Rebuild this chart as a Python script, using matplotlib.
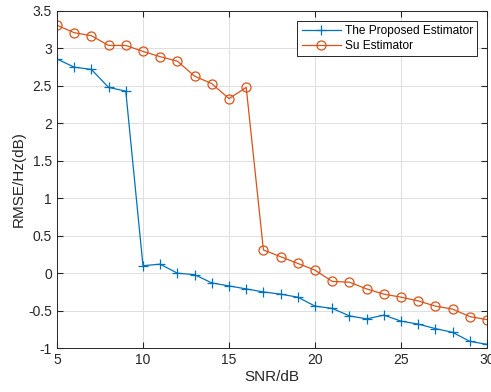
import matplotlib
matplotlib.use('Agg')
import matplotlib.pyplot as plt

snr = list(range(5, 31))
proposed = [2.86, 2.75, 2.72, 2.48, 2.43, 0.10, 0.12, 0.00, -0.02, -0.13,
            -0.17, -0.21, -0.25, -0.28, -0.32, -0.44, -0.47, -0.57, -0.61, -0.56,
            -0.64, -0.68, -0.74, -0.79, -0.91, -0.95]
su = [3.31, 3.21, 3.17, 3.04, 3.04, 2.96, 2.89, 2.83, 2.63, 2.53,
      2.33, 2.48, 0.31, 0.22, 0.13, 0.04, -0.11, -0.12, -0.21, -0.28,
      -0.32, -0.37, -0.44, -0.48, -0.58, -0.62]

plt.rcParams['font.family'] = ['Liberation Sans', 'DejaVu Sans']

fig = plt.figure(figsize=(4.91, 3.92), dpi=100)
ax = fig.add_axes([0.116, 0.112, 0.876, 0.86])

ax.plot(snr, proposed, '-+', color='#0072BD', lw=0.9, ms=7, mew=0.9,
        label='The Proposed Estimator')
ax.plot(snr, su, '-o', color='#D95319', lw=0.9, ms=6.5, mew=0.9,
        mfc='none', label='Su Estimator')

ax.set_xlim(5, 30)
ax.set_ylim(-1, 3.5)
ax.set_xticks(range(5, 31, 5))
ax.set_yticks([-1, -0.5, 0, 0.5, 1, 1.5, 2, 2.5, 3, 3.5])
ax.set_yticklabels(['-1', '-0.5', '0', '0.5', '1', '1.5', '2', '2.5', '3', '3.5'])
ax.grid(True, color='#dedede', lw=0.7)
ax.set_axisbelow(True)
ax.tick_params(direction='in', top=True, right=True, labelsize=10,
               color='#262626', labelcolor='#262626', length=4)
for s in ax.spines.values():
    s.set_color('#262626')
    s.set_linewidth(0.7)

ax.set_xlabel('SNR/dB', fontsize=11, color='#262626', labelpad=2)
ax.set_ylabel('RMSE/Hz(dB)', fontsize=11, color='#262626', labelpad=2)

leg = ax.legend(loc='upper right', fontsize=8.6, fancybox=False,
                edgecolor='#262626', framealpha=1, borderaxespad=0.85,
                handlelength=3.3, handletextpad=0.3, borderpad=0.35,
                labelspacing=0.25)
leg.get_frame().set_linewidth(0.7)

fig.savefig('out.png', dpi=100, facecolor='white')
